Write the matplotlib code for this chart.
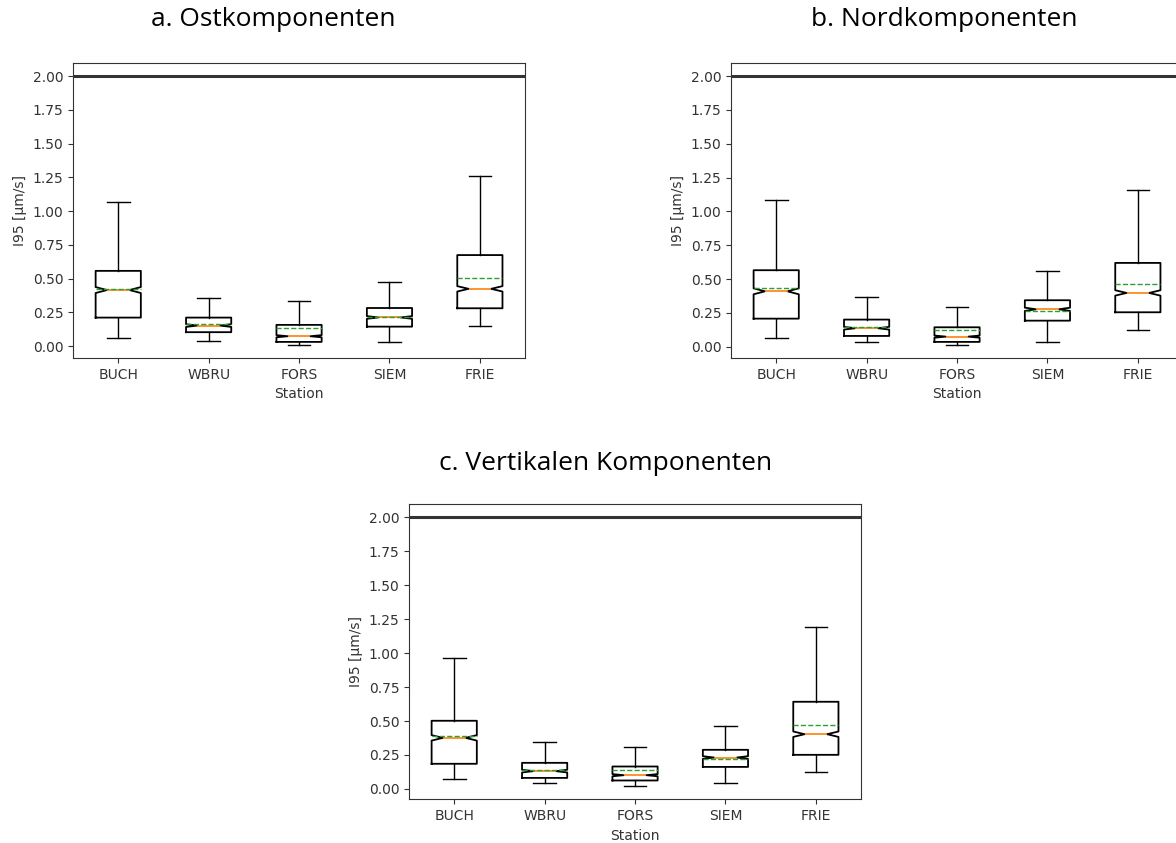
import matplotlib
matplotlib.use("Agg")
import matplotlib.pyplot as plt

# ------------------------------------------------------------
# Data: I95 box statistics per station and component
# ------------------------------------------------------------

stations = ["BUCH", "WBRU", "FORS", "SIEM", "FRIE"]

# East component
ost_whislo = [0.064, 0.042, 0.012, 0.030, 0.150]
ost_q1 = [0.212, 0.104, 0.032, 0.145, 0.281]
ost_med = [0.416, 0.153, 0.074, 0.213, 0.425]
ost_mean = [0.426, 0.163, 0.133, 0.216, 0.505]
ost_q3 = [0.558, 0.212, 0.158, 0.283, 0.675]
ost_whishi = [1.065, 0.355, 0.333, 0.473, 1.257]
ost_ci = [0.022, 0.010, 0.008, 0.010, 0.020]

# North component
nord_whislo = [0.064, 0.035, 0.015, 0.035, 0.126]
nord_q1 = [0.207, 0.079, 0.035, 0.192, 0.254]
nord_med = [0.409, 0.136, 0.074, 0.276, 0.397]
nord_mean = [0.436, 0.143, 0.126, 0.265, 0.466]
nord_q3 = [0.565, 0.200, 0.143, 0.343, 0.619]
nord_whishi = [1.087, 0.365, 0.295, 0.556, 1.159]
nord_ci = [0.022, 0.010, 0.008, 0.012, 0.020]

# Vertical component
vert_whislo = [0.071, 0.042, 0.022, 0.042, 0.121]
vert_q1 = [0.185, 0.081, 0.062, 0.162, 0.251]
vert_med = [0.376, 0.131, 0.101, 0.231, 0.403]
vert_mean = [0.389, 0.140, 0.140, 0.221, 0.470]
vert_q3 = [0.502, 0.192, 0.165, 0.288, 0.642]
vert_whishi = [0.962, 0.349, 0.312, 0.460, 1.191]
vert_ci = [0.020, 0.010, 0.008, 0.010, 0.020]

LIMIT = 2.0

plt.rcParams.update({
    "font.family": "DejaVu Sans",
    "font.size": 10,
    "text.color": "#333333",
    "axes.labelcolor": "#333333",
    "xtick.color": "#333333",
    "ytick.color": "#333333",
    "axes.edgecolor": "#333333",
})


def make_stats(whislo, q1, med, mean, q3, whishi, ci):
    stats = []
    for i, name in enumerate(stations):
        stats.append({
            "label": name,
            "whislo": whislo[i],
            "q1": q1[i],
            "med": med[i],
            "mean": mean[i],
            "q3": q3[i],
            "whishi": whishi[i],
            "cilo": med[i] - ci[i],
            "cihi": med[i] + ci[i],
            "fliers": [],
        })
    return stats


def draw_panel(ax, stats):
    ax.bxp(
        stats,
        shownotches=True,
        showmeans=True,
        meanline=True,
        showfliers=False,
        boxprops=dict(color="black", linewidth=1.3),
        whiskerprops=dict(color="black", linewidth=1.0),
        capprops=dict(color="black", linewidth=1.0),
        medianprops=dict(color="#ff7f0e", linewidth=1.2),
        meanprops=dict(color="#2ca02c", linestyle="--", linewidth=1.0),
    )
    ax.axhline(LIMIT, color="#333333", linewidth=2.2)
    ax.set_yticks([0.0, 0.25, 0.5, 0.75, 1.0, 1.25, 1.5, 1.75, 2.0])
    ax.yaxis.set_major_formatter(matplotlib.ticker.FormatStrFormatter("%.2f"))
    ax.set_ylabel("I95 [µm/s]")
    ax.set_xlabel("Station")


fig = plt.figure(figsize=(11.76, 8.43), dpi=100)

ax_a = fig.add_axes([0.0621, 0.5753, 0.3844, 0.3503])
ax_b = fig.add_axes([0.6216, 0.5753, 0.3844, 0.3503])
ax_c = fig.add_axes([0.3478, 0.0518, 0.3844, 0.3503])

draw_panel(ax_a, make_stats(ost_whislo, ost_q1, ost_med, ost_mean,
                            ost_q3, ost_whishi, ost_ci))
draw_panel(ax_b, make_stats(nord_whislo, nord_q1, nord_med, nord_mean,
                            nord_q3, nord_whishi, nord_ci))
draw_panel(ax_c, make_stats(vert_whislo, vert_q1, vert_med, vert_mean,
                            vert_q3, vert_whishi, vert_ci))

# Panel captions
title_kw = dict(ha="center", va="center", fontsize=19,
                family="Open Sans", color="black")
fig.text(273 / 1176, 1 - 20 / 843, "a. Ostkomponenten", **title_kw)
fig.text(944 / 1176, 1 - 20 / 843, "b. Nordkomponenten", **title_kw)
fig.text(606 / 1176, 1 - 463 / 843, "c. Vertikalen Komponenten", **title_kw)

fig.savefig("out.png", dpi=100)
